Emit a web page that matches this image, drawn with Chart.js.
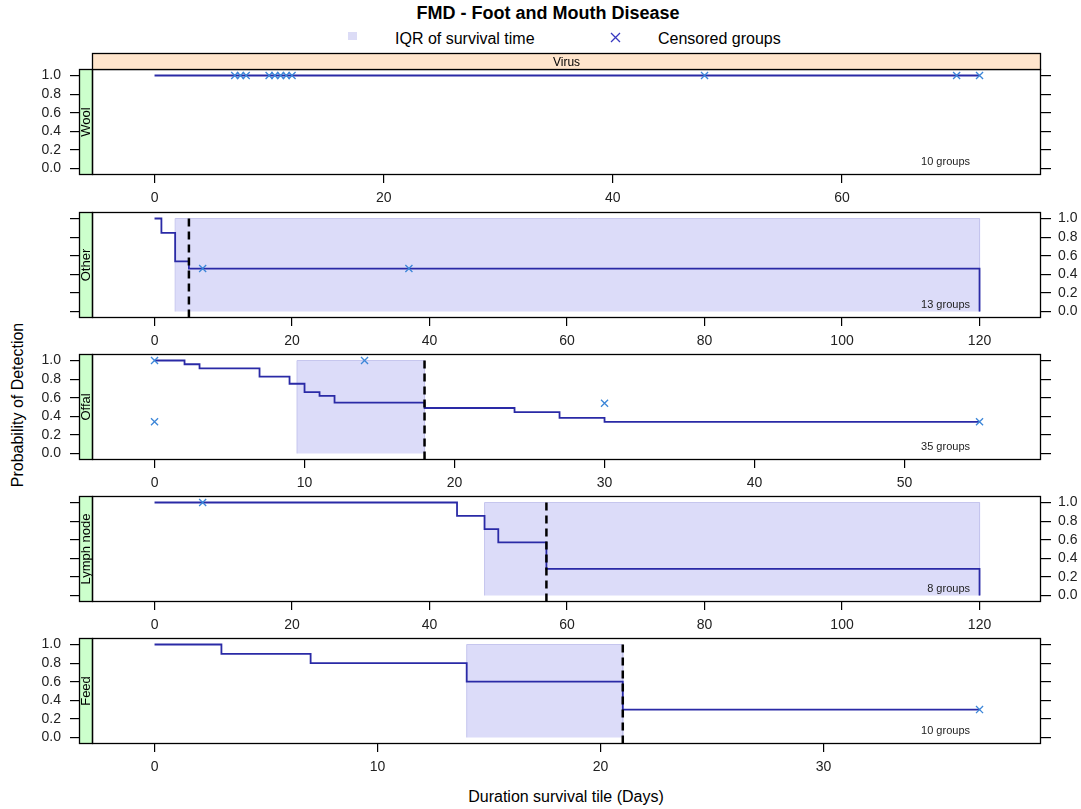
<!DOCTYPE html>
<html>
<head>
<meta charset="utf-8">
<title>FMD - Foot and Mouth Disease</title>
<script src="https://cdn.jsdelivr.net/npm/chart.js@4.4.1/dist/chart.umd.min.js"></script>
<style>
  html, body { margin: 0; padding: 0; background: #fff; }
  body { position: relative; width: 1081px; height: 809px; overflow: hidden;
         font-family: "Liberation Sans", Arial, Helvetica, sans-serif; color: #000; }
  canvas.panel { position: absolute; left: 0; }
  .txt { position: absolute; white-space: nowrap; line-height: 1; }
  #title { left: 548px; top: 4px; transform: translateX(-50%); font-size: 18px; font-weight: bold; }
  #legendIqr { left: 395px; top: 31px; font-size: 16px; }
  #legendCens { left: 658px; top: 31px; font-size: 16px; }
  #xTitle { left: 566px; top: 789px; transform: translateX(-50%); font-size: 16px; }
  #yTitle { left: 18px; top: 405px; transform: translate(-50%, -50%) rotate(-90deg); font-size: 16px; }
  svg.key { position: absolute; }
</style>
</head>
<body>
<div id="title" class="txt">FMD - Foot and Mouth Disease</div>
<svg class="key" style="left:348px;top:32px" width="9" height="8"><rect x="0" y="0" width="9" height="8" fill="#dcdcf6"/></svg>
<div id="legendIqr" class="txt">IQR of survival time</div>
<svg class="key" style="left:610px;top:32px" width="11" height="11"><path d="M1 1 L10 10 M10 1 L1 10" stroke="#3838c0" stroke-width="1.3" fill="none"/></svg>
<div id="legendCens" class="txt">Censored groups</div>
<div id="yTitle" class="txt">Probability of Detection</div>
<div id="xTitle" class="txt">Duration survival tile (Days)</div>

<script>
// ---- Panels (strip labels), group counts and day span of each panel ----
const stripTop = 'Virus';
const panelNames = ['Wool', 'Other', 'Offal', 'Lymph node', 'Feed'];
const groupCounts = [10, 13, 35, 8, 10];
const maxDays = [72, 120, 55, 120, 37];

// ---- Tick labels ----
const probTicks = [0, 0.2, 0.4, 0.6, 0.8, 1.0];
const woolTicks = [0, 20, 40, 60];
const otherTicks = [0, 20, 40, 60, 80, 100, 120];
const offalTicks = [0, 10, 20, 30, 40, 50];
const lymphTicks = [0, 20, 40, 60, 80, 100, 120];
const feedTicks = [0, 10, 20, 30];

// ---- Kaplan-Meier curves: day of each step and probability after it ----
const woolDays = [0, 72];
const woolProb = [1, 1];
const otherDays = [0, 1, 3, 5, 120];
const otherProb = [1, 0.846, 0.538, 0.462, 0];
const offalDays = [0, 2, 3, 7, 9, 10, 11, 12, 18, 24, 27, 30, 55];
const offalProb = [1, 0.96, 0.915, 0.826, 0.75, 0.66, 0.62, 0.546, 0.489, 0.444, 0.383, 0.341, 0.341];
const lymphDays = [0, 44, 48, 50, 57, 120];
const lymphProb = [1, 0.857, 0.714, 0.571, 0.286, 0];
const feedDays = [0, 3, 7, 14, 21, 37];
const feedProb = [1, 0.9, 0.8, 0.6, 0.3, 0.3];

// ---- Censored groups ----
const woolCensDays = [7, 7.5, 8, 10, 10.5, 11, 11.5, 12, 48, 70, 72];
const woolCensProb = [1, 1, 1, 1, 1, 1, 1, 1, 1, 1, 1];
const otherCensDays = [7, 37];
const otherCensProb = [0.462, 0.462];
const offalCensDays = [0, 0, 14, 30, 55];
const offalCensProb = [1, 0.341, 1, 0.54, 0.341];
const lymphCensDays = [7];
const lymphCensProb = [1];
const feedCensDays = [37];
const feedCensProb = [0.3];

// ---- IQR band and median survival day (null where not reached) ----
const iqrLow = [null, 3, 9.5, 48, 14];
const iqrHigh = [null, 120, 18, 120, 21];
const medianDay = [null, 5, 18, 57, 21];

const curves = [
  { days: woolDays, prob: woolProb, censDays: woolCensDays, censProb: woolCensProb, ticks: woolTicks },
  { days: otherDays, prob: otherProb, censDays: otherCensDays, censProb: otherCensProb, ticks: otherTicks },
  { days: offalDays, prob: offalProb, censDays: offalCensDays, censProb: offalCensProb, ticks: offalTicks },
  { days: lymphDays, prob: lymphProb, censDays: lymphCensDays, censProb: lymphCensProb, ticks: lymphTicks },
  { days: feedDays, prob: feedProb, censDays: feedCensDays, censProb: feedCensProb, ticks: feedTicks }
];

// Layout of the stacked panels
const plotTops = [69, 212, 354, 496, 638];
const PAD_TOP = 20, CANVAS_H = 160, X_AXIS_H = 34, LEFT_W = 92, RIGHT_W = 40, STRIP_W = 13;
const Y_MIN = -0.07, Y_MAX = 1.07;
const FONT = '"Liberation Sans", Arial, sans-serif';

// Draws the panel frame, the conditioning strips and the group count
const panelFrame = {
  id: 'panelFrame',
  afterDraw(chart, args, o) {
    const { ctx, chartArea: a } = chart;
    const w = a.right - a.left, h = a.bottom - a.top;
    ctx.save();
    ctx.lineWidth = 1.3;
    ctx.strokeStyle = '#000';
    ctx.fillStyle = '#ccffcc';
    ctx.fillRect(a.left - STRIP_W, a.top, STRIP_W, h);
    ctx.strokeRect(a.left - STRIP_W + 0.5, a.top + 0.5, STRIP_W, h - 1);
    ctx.strokeRect(a.left + 0.5, a.top + 0.5, w - 1, h - 1);
    if (o.topLabel) {
      ctx.fillStyle = '#ffe5cc';
      ctx.fillRect(a.left, a.top - 16, w, 16);
      ctx.strokeRect(a.left + 0.5, a.top - 16 + 0.5, w - 1, 16);
      ctx.fillStyle = '#000';
      ctx.font = '12px ' + FONT;
      ctx.textAlign = 'center';
      ctx.textBaseline = 'middle';
      ctx.fillText(o.topLabel, a.left + w / 2, a.top - 6);
    }
    ctx.save();
    ctx.translate(a.left - STRIP_W / 2, a.top + h / 2);
    ctx.rotate(-Math.PI / 2);
    ctx.fillStyle = '#000';
    ctx.font = '13px ' + FONT;
    ctx.textAlign = 'center';
    ctx.textBaseline = 'middle';
    ctx.fillText(o.name, 0, 0.5);
    ctx.restore();
    ctx.fillStyle = '#222';
    ctx.font = '11px ' + FONT;
    ctx.textAlign = 'right';
    ctx.textBaseline = 'middle';
    ctx.fillText(o.groups + ' groups', a.right - 71, a.bottom - 13);
    ctx.restore();
  }
};

function probAxis(position, showLabels, width, tickLen, pad) {
  return {
    type: 'linear', position, min: Y_MIN, max: Y_MAX,
    afterBuildTicks: sc => { sc.ticks = probTicks.map(v => ({ value: v })); },
    afterFit: sc => { sc.width = width; },
    grid: { drawOnChartArea: false, drawTicks: true, tickLength: tickLen, color: '#000', lineWidth: 1.2 },
    border: { display: false },
    ticks: {
      autoSkip: false, padding: pad, color: '#222',
      font: { family: FONT, size: 14 },
      callback: v => showLabels ? Number(v).toFixed(1) : ''
    }
  };
}

curves.forEach((c, k) => {
  const canvas = document.createElement('canvas');
  canvas.className = 'panel';
  canvas.width = 1081;
  canvas.height = CANVAS_H;
  canvas.style.top = (plotTops[k] - PAD_TOP) + 'px';
  document.body.appendChild(canvas);

  const span = maxDays[k];
  const leftLabels = (k % 2 === 0);
  const datasets = [];

  if (iqrLow[k] !== null) {
    datasets.push({
      label: 'IQR of survival time',
      data: [{ x: iqrLow[k], y: 0 }, { x: iqrLow[k], y: 1 }, { x: iqrHigh[k], y: 1 }, { x: iqrHigh[k], y: 0 }],
      fill: 'origin', backgroundColor: '#dcdcf9', borderColor: '#c6c6ee', borderWidth: 1,
      pointRadius: 0, tension: 0, order: 4
    });
  }
  datasets.push({
    label: panelNames[k],
    data: c.days.map((d, i) => ({ x: d, y: c.prob[i] })),
    stepped: true, fill: false, borderColor: '#2a2aa6', borderWidth: 1.8,
    pointRadius: 0, order: 3
  });
  if (medianDay[k] !== null) {
    datasets.push({
      label: 'Median',
      data: [{ x: medianDay[k], y: 1 }, { x: medianDay[k], y: Y_MIN }],
      fill: false, borderColor: '#000', borderWidth: 2.5, borderDash: [8, 5],
      pointRadius: 0, order: 2
    });
  }
  datasets.push({
    label: 'Censored groups',
    data: c.censDays.map((d, i) => ({ x: d, y: c.censProb[i] })),
    showLine: false, pointStyle: 'crossRot', pointRadius: 5,
    pointBorderColor: '#3c86d8', pointBorderWidth: 1.3, pointBackgroundColor: 'rgba(0,0,0,0)',
    order: 1
  });

  new Chart(canvas, {
    type: 'line',
    data: { datasets },
    options: {
      responsive: false, animation: false, devicePixelRatio: 1, events: [],
      layout: { padding: { top: PAD_TOP, left: 0, right: 0, bottom: 0 } },
      plugins: {
        legend: { display: false }, tooltip: { enabled: false },
        panelFrame: { name: panelNames[k], groups: groupCounts[k], topLabel: k === 0 ? stripTop : null }
      },
      scales: {
        x: {
          type: 'linear', position: 'bottom', min: -0.0758 * span, max: 1.0745 * span,
          afterBuildTicks: sc => { sc.ticks = c.ticks.map(v => ({ value: v })); },
          afterFit: sc => { sc.height = X_AXIS_H; },
          grid: { drawOnChartArea: false, drawTicks: true, tickLength: 8, color: '#000', lineWidth: 1.2 },
          border: { display: false },
          ticks: { autoSkip: false, maxRotation: 0, padding: 7, color: '#222',
                   font: { family: FONT, size: 14 }, callback: v => String(v) }
        },
        y: probAxis('left', leftLabels, LEFT_W, 22, 9),
        y2: probAxis('right', !leftLabels, RIGHT_W, 10, 7)
      }
    },
    plugins: [panelFrame]
  });
});
</script>
</body>
</html>
